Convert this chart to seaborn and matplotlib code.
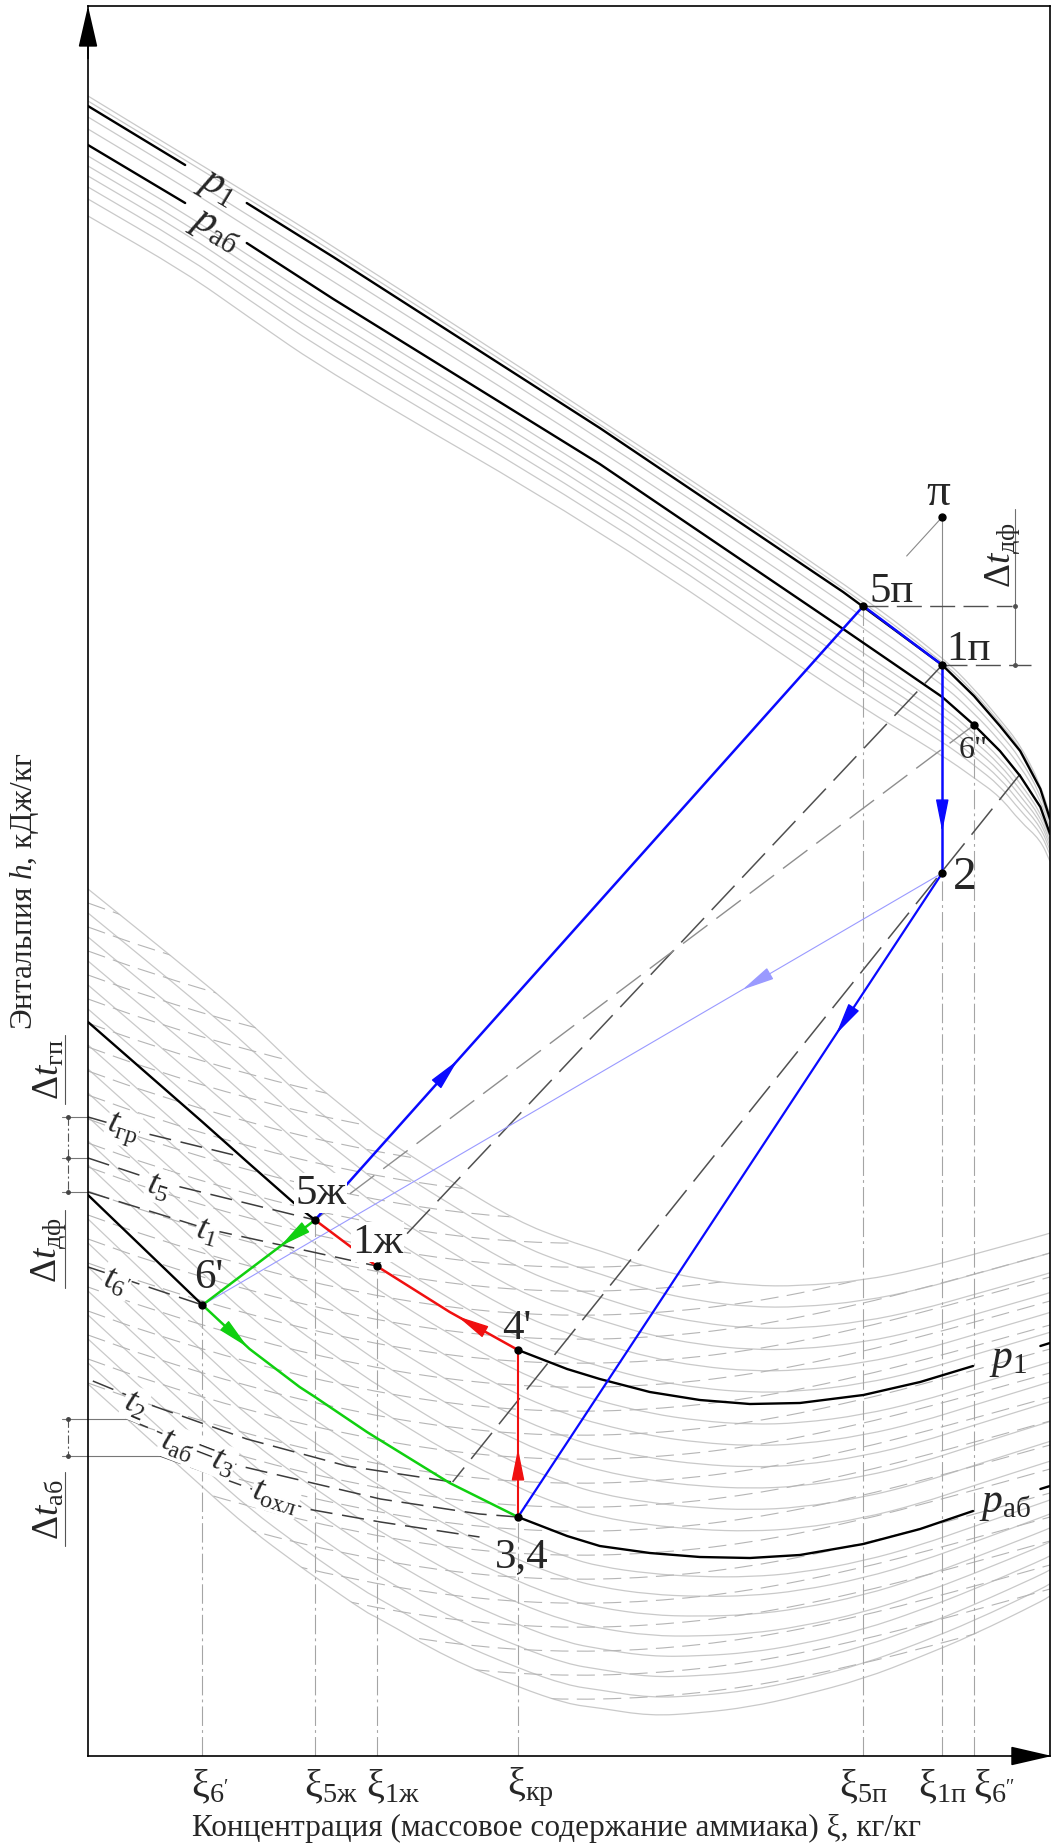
import numpy as np
import pandas as pd
import matplotlib
matplotlib.use("Agg")
import matplotlib.pyplot as plt
from matplotlib.patches import Polygon, PathPatch
from matplotlib.path import Path
import seaborn as sns

sns.set_theme(style="white")
plt.rcParams.update({
    "font.family": ["Liberation Serif", "DejaVu Serif"],
    "mathtext.fontset": "custom",
    "mathtext.rm": "Liberation Serif",
    "mathtext.it": "Liberation Serif:italic",
    "mathtext.bf": "Liberation Serif:bold",
    "lines.scale_dashes": False,
    "axes.linewidth": 1.2,
    "axes.edgecolor": "black",
})

# ---------------- data (xi, kg/kg ; h, kJ/kg) ----------------
# saturated vapour (dew) lines
xi_dew = [0.0, 0.101, 0.165, 0.255, 0.532, 0.785, 0.888, 0.921, 0.948, 0.969, 0.990, 1.0]
h_dew_p1 = [1650, 1591, 1553, 1499, 1328, 1164, 1091, 1060, 1030, 1005, 967, 937]
h_dew_pab = [1611, 1553, 1513, 1457, 1292, 1127, 1059, 1031, 1005, 980, 949, 922]

# boiling (liquid) lines
xi_liq = [0.0, 0.119, 0.168, 0.220, 0.236, 0.290, 0.300, 0.376, 0.447, 0.498,
          0.532, 0.584, 0.636, 0.688, 0.740, 0.806, 0.865, 0.920, 0.990, 1.0]
h_liq_p1 = [734, 634, 592, 548, 536, 497, 490, 444, 406, 387,
            377, 364, 356, 352, 353, 361, 374, 390, 410, 413]
h_liq_pab = [561, 451, 407, 369, 359, 324, 318, 273, 239, 220,
             210, 203, 199, 198, 201, 212, 227, 245, 267, 270]
# lowest liquid isobar of the chart grid
h_liq_low = [372, 269, 227, 190, 179, 143, 139, 97, 69, 52,
             48, 40, 43, 49, 60, 77, 99, 121, 154, 160]

# background grid: enthalpy of each neighbouring isobar at xi = 0
grid_dew_h0 = [1660, 1655, 1639, 1627, 1600, 1590, 1580, 1569, 1557, 1540]
grid_liq_h0 = [867, 843, 819, 795, 771, 747, 711, 687, 663, 639, 615, 591,
               537, 513, 489, 465, 441, 417, 393, 372]

# isotherm course in the liquid region (enthalpy drop from xi = 0)
xi_iso = [0.0, 0.064, 0.168, 0.272, 0.376, 0.480, 0.584, 0.688, 0.792, 0.896, 1.0]
dh_iso = [0, -22, -52, -76, -93, -101, -99, -88, -68, -42, -14]
iso_h0 = [877, 853, 829, 805, 781, 757, 733, 709, 685, 661, 637, 613, 589, 565,
          541, 517, 493, 469, 445, 421, 397, 373, 349, 325, 301, 277, 253, 229,
          205, 181, 157, 133, 109]

# labelled isotherms
t_gr = ([0.0, 0.054, 0.160], [639, 624, 599])
t_5 = ([0.0, 0.075, 0.236], [598, 574, 536])
t_1 = ([0.0, 0.124, 0.300], [564, 527, 490])
t_6 = ([0.0, 0.119], [489, 451])
t_2 = ([0.005, 0.068, 0.165, 0.269, 0.379], [375, 350, 317, 290, 274])
t_ab = ([0.041, 0.158, 0.304, 0.407, 0.447], [337, 290, 257, 242, 239])
t_cool = ([0.075, 0.228, 0.304, 0.407], [300, 247, 234, 219])

# cycle states
P_5v = (0.806, 1150)
P_1v = (0.888, 1091)
P_pi = (0.888, 1239)
P_6v = (0.921, 1031)
P_2 = (0.888, 883)
P_5l = (0.236, 536)
P_1l = (0.300, 490)
P_6l = (0.119, 451)
P_4p = (0.447, 406)
P_34 = (0.447, 239)
P_dew_aux = (0.969, 982)
P_green_aux = (0.379, 274)

# concentration marks on the abscissa
xi_marks = [0.119, 0.236, 0.300, 0.447, 0.806, 0.888, 0.921]
xi_mark_top = [451, 536, 490, 239, 1150, 883, 1031]
xi_mark_sub = ["6'", "5ж", "1ж", "кр", "5п", "1п", "6''"]

# ---------------- figure ----------------
W, H = 1052, 1849
fig = plt.figure(figsize=(W / 100, H / 100), dpi=100)
ax = fig.add_axes([88 / W, 92 / H, 962 / W, 1750 / H])
ax.set_xlim(0, 1)
ax.set_ylim(0, 1750)
ax.set_xticks([])
ax.set_yticks([])
for s in ax.spines.values():
    s.set_color("black")
    s.set_linewidth(1.2)

xd = np.array(xi_dew)
d1, d2 = np.array(h_dew_p1), np.array(h_dew_pab)
xl = np.array(xi_liq)
l1, l2, l3 = np.array(h_liq_p1), np.array(h_liq_pab), np.array(h_liq_low)


def smooth_path(xs, ys):
    """Quadratic-Bezier path through the midpoints of a polyline."""
    P = np.column_stack([xs, ys]).astype(float)
    verts = [P[0], (P[0] + P[1]) / 2]
    codes = [Path.MOVETO, Path.LINETO]
    for i in range(1, len(P) - 1):
        verts += [P[i], (P[i] + P[i + 1]) / 2]
        codes += [Path.CURVE3, Path.CURVE3]
    verts.append(P[-1])
    codes.append(Path.LINETO)
    return Path(verts, codes)


def grid_line(xs, ys, color, lw, ls="-", z=1.2, clip=None):
    p = PathPatch(smooth_path(xs, ys), fill=False, edgecolor=color, lw=lw,
                  linestyle=ls, zorder=z)
    ax.add_patch(p)
    if clip is not None:
        p.set_clip_path(clip)
    return p


# background isobars: vapour side
for h0 in grid_dew_h0:
    lam = (h0 - d2[0]) / (d1[0] - d2[0])
    grid_line(xd, d2 + lam * (d1 - d2), "#c9c9c9", 0.9)

# background isobars: liquid side
liq_curves = []
for h0 in grid_liq_h0:
    if h0 >= l2[0]:
        lam = (h0 - l2[0]) / (l1[0] - l2[0])
        hh = l2 + lam * (l1 - l2)
    else:
        mu = (l2[0] - h0) / (l2[0] - l3[0])
        hh = l2 + mu * (l3 - l2)
    liq_curves.append(hh)
    grid_line(xl, hh, "#c9c9c9", 0.9)

# band of the liquid isobars, used to clip the isotherm grid
top, bot = liq_curves[0], liq_curves[-1]
band = Polygon(np.column_stack([np.r_[xl, xl[::-1]], np.r_[top, bot[::-1]]]),
               closed=True, transform=ax.transData, facecolor="none", edgecolor="none")
for h0 in iso_h0:
    grid_line(xi_iso, np.array(dh_iso) + h0, "#b5b5b5", 0.8, ls=(0, (13, 6)),
              z=1.5, clip=band)

# concentration marks (dash-dot verticals)
for x, ht in zip(xi_marks, xi_mark_top):
    ax.plot([x, x], [0, ht], color="#a5a5a5", lw=0.8, dashes=(14, 3, 2, 3), zorder=1.6)
ax.plot([P_pi[0], P_1v[0]], [P_pi[1], P_1v[1]], color="#8a8a8a", lw=0.8, zorder=1.6)
ax.plot([P_pi[0], 0.851], [P_pi[1], 1200], color="#8a8a8a", lw=0.8, zorder=1.6)

# main isobars p1 and p_ab (black)
segs = []


def add_seg(name, x, h):
    for a, b in zip(x, h):
        segs.append((name, a, b))


add_seg("d1a", xd[0:2], d1[0:2]); add_seg("d1b", xd[2:], d1[2:])
add_seg("d2a", xd[0:2], d2[0:2]); add_seg("d2b", xd[2:], d2[2:])
add_seg("l1a", xl[0:5], l1[0:5]); add_seg("l1b", xl[8:18], l1[8:18]); add_seg("l1c", xl[18:], l1[18:])
add_seg("l2a", xl[0:2], l2[0:2]); add_seg("l2b", xl[8:18], l2[8:18]); add_seg("l2c", xl[18:], l2[18:])
main = pd.DataFrame(segs, columns=["seg", "xi", "h"])
sns.lineplot(data=main, x="xi", y="h", units="seg", estimator=None, sort=False,
             color="black", lw=1.7, ax=ax, legend=False, zorder=3)

# named isotherms
for xs, hs in [t_gr, t_5, t_1, t_6, t_2, t_ab, t_cool]:
    ax.plot(xs, hs, color="#3c3c3c", lw=1.1, dashes=(16, 7), zorder=2.5)

# construction lines
ax.plot([P_1l[0], P_1v[0]], [P_1l[1], P_1v[1]], color="#505050", lw=1.1, dashes=(24, 8), zorder=2.6)
ax.plot([P_dew_aux[0], P_green_aux[0]], [P_dew_aux[1], P_green_aux[1]], color="#505050", lw=1.1,
        dashes=(24, 8), zorder=2.6)
ax.plot([P_6v[0], P_5l[0]], [P_6v[1], P_5l[1]], color="#8e8e8e", lw=1.0, dashes=(22, 8), zorder=2.6)
ax.plot([P_5v[0], 0.960], [P_5v[1], P_5v[1]], color="#505050", lw=1.0, dashes=(18, 6), zorder=2.6)
ax.plot([P_1v[0], 0.980], [P_1v[1], P_1v[1]], color="#505050", lw=1.0, dashes=(18, 6), zorder=2.6)
ax.plot([0.964, 0.964], [1247, P_1v[1]], color="#707070", lw=0.8, zorder=2.6)
ax.plot([0.964, 0.964], [P_5v[1], P_1v[1]], "o", color="#505050", ms=2.5, zorder=2.6)

# process lines
BLUE, LBLUE, RED, GREEN = "#0a0aff", "#9a9aff", "#f01010", "#10d010"
ax.plot([P_5l[0], P_5v[0]], [P_5l[1], P_5v[1]], color=BLUE, lw=1.8, zorder=4)
ax.plot([P_5v[0], P_1v[0]], [P_5v[1], P_1v[1]], color=BLUE, lw=1.8, zorder=4)
ax.plot([P_1v[0], P_2[0]], [P_1v[1], P_2[1]], color=BLUE, lw=1.8, zorder=4)
ax.plot([P_2[0], P_34[0]], [P_2[1], P_34[1]], color=BLUE, lw=1.6, zorder=4)
ax.plot([P_2[0], P_6l[0]], [P_2[1], P_6l[1]], color=LBLUE, lw=0.8, zorder=4)
ax.plot(xl[4:9], l1[4:9], color=RED, lw=1.8, zorder=4)
ax.plot([P_34[0], P_4p[0]], [P_34[1], P_4p[1]], color=RED, lw=1.5, zorder=4)
ax.plot([P_5l[0], P_6l[0]], [P_5l[1], P_6l[1]], color=GREEN, lw=1.8, zorder=4)
ax.plot(xl[1:9], l2[1:9], color=GREEN, lw=1.8, zorder=4)


def head(tip, tail, color):
    ax.annotate("", xy=tip, xytext=tail, zorder=5,
                arrowprops=dict(arrowstyle="-|>,head_length=1.0,head_width=0.2",
                                color=color, lw=1, mutation_scale=20,
                                shrinkA=0, shrinkB=0))


def head_on_segment(p0, p1, frac, color):
    tip = (p0[0] + (p1[0] - p0[0]) * frac, p0[1] + (p1[1] - p0[1]) * frac)
    f2 = frac - 0.03
    tail = (p0[0] + (p1[0] - p0[0]) * f2, p0[1] + (p1[1] - p0[1]) * f2)
    head(tip, tail, color)


head_on_segment(P_5l, P_5v, 0.26, BLUE)
head_on_segment(P_1v, P_2, 0.80, BLUE)
head_on_segment(P_2, P_34, 0.25, BLUE)
head_on_segment(P_2, P_6l, 0.27, LBLUE)
head_on_segment(P_34, P_4p, 0.41, RED)
head_on_segment(P_5l, P_6l, 0.31, GREEN)
head((0.384, np.interp(0.384, xl, l1)), (0.400, np.interp(0.400, xl, l1)), RED)
head((0.166, np.interp(0.166, xl, l2)), (0.150, np.interp(0.150, xl, l2)), GREEN)

# state points
pts = [P_5v, P_1v, P_pi, P_6v, P_2, P_5l, P_1l, P_6l, P_4p, P_34]
ax.plot([p[0] for p in pts], [p[1] for p in pts], "o", color="black", ms=5, zorder=7)

# axis arrows
arrow_kw = dict(arrowstyle="-|>,head_length=1.3,head_width=0.3", color="black",
                lw=1.2, mutation_scale=20, shrinkA=0, shrinkB=0)
ax.annotate("", xy=(0, 1.0), xytext=(0, 0.97), xycoords="axes fraction",
            arrowprops=arrow_kw, annotation_clip=False)
ax.annotate("", xy=(1.002, 0), xytext=(0.96, 0), xycoords="axes fraction",
            arrowprops=arrow_kw, annotation_clip=False)

# ---------------- lettering ----------------
WB = dict(facecolor="white", edgecolor="none", pad=0.6)


def lab(x, y, s, pt, ha="center", va="center", rot=0, bg=False, pix=False):
    kw = dict(fontsize=pt, ha=ha, va=va, rotation=rot, rotation_mode="anchor",
              zorder=8, clip_on=False)
    if bg:
        kw["bbox"] = WB
    if pix:
        fig.text(x / W, y / H, s, **kw)
    else:
        ax.text(x, y, s, **kw)


lab(0.884, 1263, "π", 34)
lab(0.812, 1155, "5п", 31, ha="left", va="baseline")
lab(0.892, 1097, "1п", 31, ha="left", va="baseline")
lab(0.920, 1006, '6"', 23)
lab(0.899, 879, "2", 34, ha="left")
lab(0.242, 563, "5ж", 31, bg=True)
lab(0.301, 514, "1ж", 31, bg=True)
lab(0.125, 479, "6'", 31)
lab(0.446, 428, "4'", 31)
lab(0.451, 200, "3,4", 31)

lab(0.956, 397, r"$p_{1}$", 30)
lab(0.953, 253, r"$p_{\mathrm{аб}}$", 30)
lab(0.134, 1570, r"$p_{1}$", 30, rot=-31)
lab(0.132, 1527, r"$p_{\mathrm{аб}}$", 30, rot=-31)

iso_labels = [
    (0.036, 628, r"$t_{\mathrm{гр}}$", -17),
    (0.073, 570, r"$t_{5}$", -16),
    (0.124, 525, r"$t_{1}$", -16),
    (0.030, 475, r"$t_{6'}$", -18),
    (0.049, 352, r"$t_{2}$", -23),
    (0.114, 304, r"$t_{\mathrm{аб}}\!=\!t_{3}$", -21),
    (0.195, 260, r"$t_{\mathrm{охл}}$", -17),
]
for x, h, s, r in iso_labels:
    lab(x, h, s, 25, rot=r, bg=True)

lab(0.951, 1202, r"$\Delta t_{\mathrm{дф}}$", 27, rot=90)

# left-hand dimension marks
XL = lambda px: (px - 88) / 962.0
for s, hc, h_a, h_b in [(r"$\Delta t_{\mathrm{гп}}$", 687, 721, 652),
                        (r"$\Delta t_{\mathrm{дф}}$", 507, 546, 468),
                        (r"$\Delta t_{\mathrm{аб}}$", 247, 284, 210)]:
    lab(XL(49), hc, s, 27, rot=90)
    ax.plot([XL(65), XL(65)], [h_a, h_b], color="#555555", lw=0.8, clip_on=False)
for h in [639, 598, 564]:
    ax.plot([XL(62), 0], [h, h], color="#777777", lw=0.8, clip_on=False)
ax.plot([XL(68), XL(68)], [639, 564], color="#555555", lw=0.8, dashes=(6, 2, 1.5, 2), clip_on=False)
ax.plot([XL(68)] * 3, [639, 598, 564], "o", color="#444444", ms=2.5, clip_on=False)
ax.plot([XL(62), t_ab[0][0]], [337, 337], color="#777777", lw=0.8, clip_on=False)
ax.plot([XL(62), t_cool[0][0]], [300, 300], color="#777777", lw=0.8, clip_on=False)
ax.plot([XL(68), XL(68)], [337, 300], color="#555555", lw=0.8, dashes=(6, 2, 1.5, 2), clip_on=False)
ax.plot([XL(68)] * 2, [337, 300], "o", color="#444444", ms=2.5, clip_on=False)

# abscissa marks
for x, sub in zip(xi_marks, xi_mark_sub):
    s = r"$\mathrm{ξ}_{\mathrm{%s}}$" % sub
    px, _ = ax.transData.transform((x, 0))
    if sub in ("5п", "1п"):
        lab(px, 62, s, 29, pix=True)
    elif sub == "6''":
        lab(px - 1, 62, s, 29, ha="left", pix=True)
    else:
        lab(px - 11, 62, s, 29, ha="left", pix=True)

lab(557, H - 1828, "Концентрация (массовое содержание аммиака) ξ, кг/кг", 22.5, pix=True)
lab(25, H - 891, "Энтальпия $h$, кДж/кг", 22.5, rot=90, pix=True)

fig.savefig("out.png", dpi=100)
